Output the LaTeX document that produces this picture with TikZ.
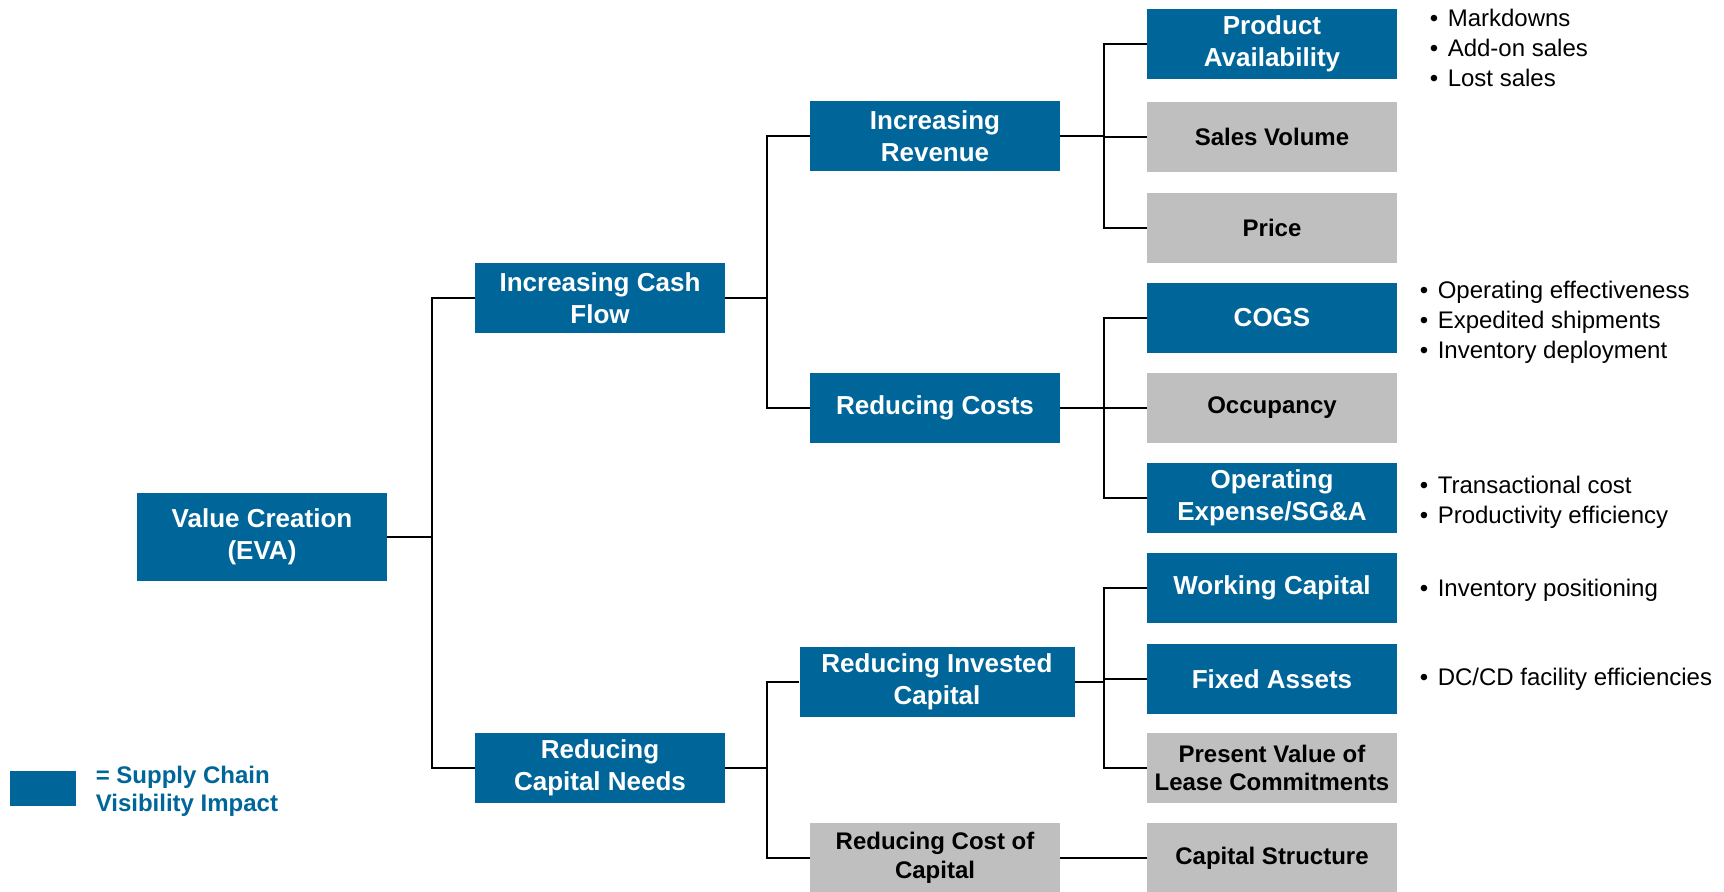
\documentclass[tikz,border=0pt]{standalone}
\usepackage{fontspec}
\setmainfont{Liberation Sans}
\usepackage{tikz}
\usetikzlibrary{positioning}
\definecolor{scblue}{RGB}{0,102,153}
\definecolor{scgray}{RGB}{191,191,191}
\newcommand{\dotitem}{\makebox[9pt][l]{•}}

\begin{document}
\begin{tikzpicture} [
    x=0.5pt, y=-0.5pt,
    box/.style = {rectangle, minimum width=125pt, minimum height=35pt, inner sep=2pt, align=center},
    impact/.style = {box, fill=scblue, text=white, font=\fontsize{13}{16}\selectfont\bfseries},
    other/.style = {box, fill=scgray, text=black, font=\fontsize{12}{14.3}\selectfont\bfseries},
    notes/.style = {anchor=west, align=left, inner sep=0pt, font=\fontsize{12}{15}\selectfont},
    link/.style = {draw=black, line width=1.2pt}
]
    \useasboundingbox (0,0) rectangle (1724,891);

    \node [impact, minimum height=44pt] (vc) at (262,537) {Value Creation\\(EVA)};
    \node [impact] (icf) at (600,298) {Increasing Cash\\Flow};
    \node [impact] (rcn) at (600,768) {Reducing\\Capital Needs};
    \node [impact] (ir) at (935,136) {Increasing\\Revenue};
    \node [impact] (rc) at (935,408) {Reducing Costs};
    \node [impact, minimum width=137.5pt] (ric) at (937,682) {Reducing Invested\\Capital};
    \node [other] (rcc) at (935,858) {Reducing Cost of\\Capital};

    \node [impact] (pa) at (1272,44) {Product\\Availability};
    \node [other] (sv) at (1272,137) {Sales Volume};
    \node [other] (pr) at (1272,228) {Price};
    \node [impact] (cogs) at (1272,318) {COGS};
    \node [other] (occ) at (1272,408) {Occupancy};
    \node [impact] (opex) at (1272,498) {Operating\\Expense/SG\&A};
    \node [impact] (wc) at (1272,588) {Working Capital};
    \node [impact] (fa) at (1272,679) {Fixed Assets};
    \node [other] (pv) at (1272,768) {Present Value of\\Lease Commitments};
    \node [other] (cs) at (1272,858) {Capital Structure};

    \coordinate (fork1) at (432,0);
    \coordinate (fork2) at (767,0);
    \coordinate (fork3) at (1104,0);

    \foreach \p/\c/\k in {vc/icf/fork1, vc/rcn/fork1, icf/ir/fork2, icf/rc/fork2,
        rcn/ric/fork2, rcn/rcc/fork2, ir/pa/fork3, ir/sv/fork3, ir/pr/fork3,
        rc/cogs/fork3, rc/occ/fork3, rc/opex/fork3,
        ric/wc/fork3, ric/fa/fork3, ric/pv/fork3, rcc/cs/fork3}
        \draw [link] (\p.east) -| (\k |- \c.west) -- (\c.west);

    \node [notes, right=16pt of pa, yshift=-2pt] (pa notes) {\dotitem Markdowns\\\dotitem Add-on sales\\\dotitem Lost sales};
    \node [notes, right=11pt of cogs, yshift=-2pt] (cogs notes) {\dotitem Operating effectiveness\\\dotitem Expedited shipments\\\dotitem Inventory deployment};
    \node [notes, right=11pt of opex, yshift=-2pt] (opex notes) {\dotitem Transactional cost\\\dotitem Productivity efficiency};
    \node [notes, right=11pt of wc, yshift=-1pt] (wc notes) {\dotitem Inventory positioning};
    \node [notes, right=11pt of fa] (fa notes) {\dotitem DC/CD facility efficiencies};

    \node [fill=scblue, minimum width=33pt, minimum height=17.5pt, inner sep=0pt] (key) at (43,788) {};
    \node [notes, right=9.5pt of key, yshift=-1.5pt, text=scblue, font=\fontsize{12}{14}\selectfont\bfseries] (key text) {= Supply Chain\\Visibility Impact};
\end{tikzpicture}
\end{document}
